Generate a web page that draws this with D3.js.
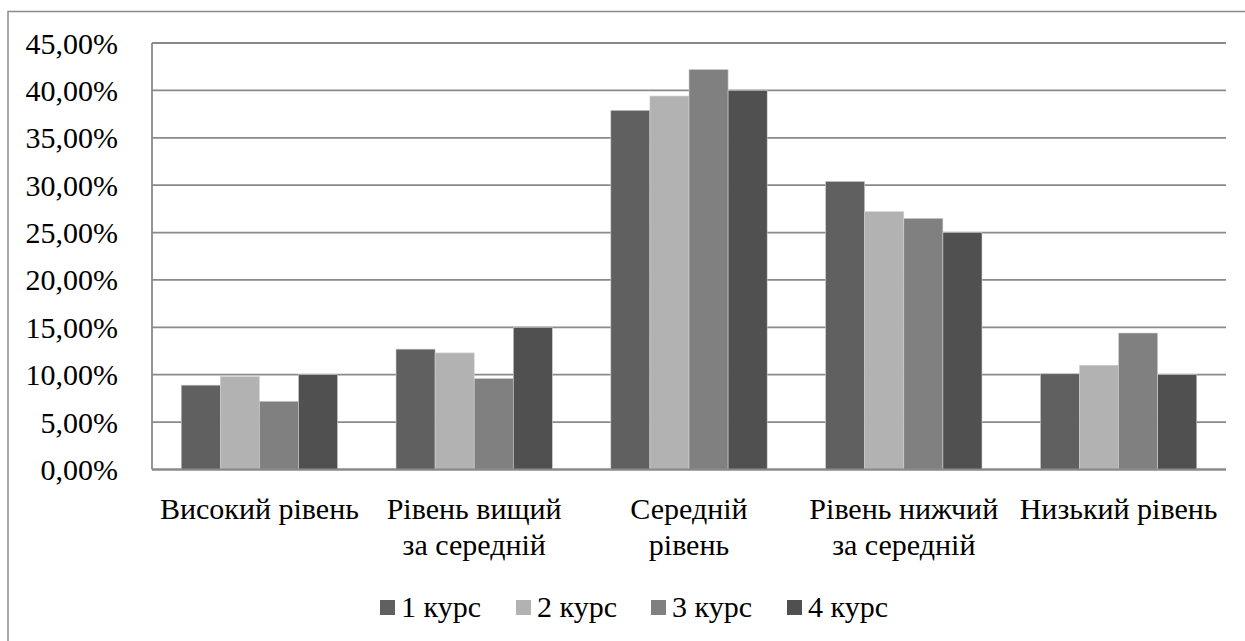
<!DOCTYPE html>
<html>
<head>
<meta charset="utf-8">
<script src="https://cdn.jsdelivr.net/npm/d3@7/dist/d3.min.js"></script>
<style>
  html, body { margin: 0; padding: 0; background: #fff; }
  svg { display: block; }
</style>
</head>
<body>
<svg id="chart" width="1245" height="641" font-family="'Liberation Serif', 'Times New Roman', 'Noto Serif', 'DejaVu Serif', serif"></svg>
<script>
// Rating levels (category axis), split into display lines
const categories = ["Високий рівень", "Рівень вищий за середній", "Середній рівень", "Рівень нижчий за середній", "Низький рівень"];
const categoryLines = [["Високий рівень"], ["Рівень вищий", "за середній"], ["Середній", "рівень"], ["Рівень нижчий", "за середній"], ["Низький рівень"]];

// Study years (series)
const seriesNames = ["1 курс", "2 курс", "3 курс", "4 курс"];
const seriesColors = ["#606060", "#b2b2b2", "#808080", "#505050"];

// Share of students per level, percent
const course1 = [8.9, 12.7, 37.9, 30.4, 10.1];
const course2 = [9.8, 12.3, 39.4, 27.2, 11.0];
const course3 = [7.2, 9.6, 42.2, 26.5, 14.4];
const course4 = [10.0, 15.0, 40.0, 25.0, 10.0];
const seriesValues = [course1, course2, course3, course4];

// Value axis ticks
const yTicks = [0, 5, 10, 15, 20, 25, 30, 35, 40, 45];

const svg = d3.select("#chart");
const plot = { left: 152, right: 1226, top: 43, bottom: 469.5 };
const gridColor = "#8a8a8a";
const fontSize = 30;

// Outer chart frame
svg.append("rect")
  .attr("x", 8).attr("y", 11.5)
  .attr("width", 1250).attr("height", 640)
  .attr("fill", "none").attr("stroke", gridColor).attr("stroke-width", 1.5);

const x0 = d3.scaleBand()
  .domain(categories)
  .range([plot.left, plot.right])
  .paddingInner(0.272)
  .paddingOuter(0.136);

const x1 = d3.scaleBand()
  .domain(seriesNames)
  .range([0, x0.bandwidth()])
  .padding(0);

const y = d3.scaleLinear().domain([0, 45]).range([plot.bottom, plot.top]);

// Horizontal gridlines
svg.append("g").selectAll("line")
  .data(yTicks)
  .join("line")
  .attr("x1", plot.left).attr("x2", plot.right)
  .attr("y1", d => y(d)).attr("y2", d => y(d))
  .attr("stroke", gridColor).attr("stroke-width", 1.8);

// Value axis line
svg.append("line")
  .attr("x1", plot.left).attr("x2", plot.left)
  .attr("y1", y(45)).attr("y2", y(0))
  .attr("stroke", gridColor).attr("stroke-width", 1.8);

// Value axis labels
const fmt = d => d.toFixed(2).replace(".", ",") + "%";
svg.append("g").selectAll("text")
  .data(yTicks)
  .join("text")
  .attr("x", 118)
  .attr("y", d => y(d) + 10.5)
  .attr("text-anchor", "end")
  .attr("font-size", fontSize)
  .text(fmt);

// Bars
const groups = svg.append("g").selectAll("g")
  .data(categories)
  .join("g")
  .attr("transform", c => `translate(${x0(c)},0)`);

groups.selectAll("rect")
  .data((c, i) => seriesNames.map((s, k) => ({ s, k, v: seriesValues[k][i] })))
  .join("rect")
  .attr("x", d => x1(d.s))
  .attr("width", x1.bandwidth())
  .attr("y", d => y(d.v))
  .attr("height", d => y(0) - y(d.v))
  .attr("fill", d => seriesColors[d.k])
  .attr("stroke", "#d0d0d0")
  .attr("stroke-width", 0.6);

// Baseline over bar bottoms
svg.append("line")
  .attr("x1", plot.left).attr("x2", plot.right)
  .attr("y1", y(0)).attr("y2", y(0))
  .attr("stroke", gridColor).attr("stroke-width", 1.8);

// Category labels
const catLabels = svg.append("g").selectAll("text")
  .data(categories)
  .join("text")
  .attr("text-anchor", "middle")
  .attr("font-size", fontSize);

catLabels.selectAll("tspan")
  .data((c, i) => categoryLines[i].map(line => ({ line, c })))
  .join("tspan")
  .attr("x", d => x0(d.c) + x0.bandwidth() / 2)
  .attr("y", (d, j) => 519 + j * 36)
  .text(d => d.line);

// Legend
const legendX = [380, 516, 651, 787];
const legend = svg.append("g").selectAll("g")
  .data(seriesNames)
  .join("g")
  .attr("transform", (d, i) => `translate(${legendX[i]},600)`);

legend.append("rect")
  .attr("width", 15).attr("height", 15)
  .attr("fill", (d, i) => seriesColors[i]);

legend.append("text")
  .attr("x", 21).attr("y", 16.5)
  .attr("font-size", fontSize)
  .text(d => d);
</script>
</body>
</html>
